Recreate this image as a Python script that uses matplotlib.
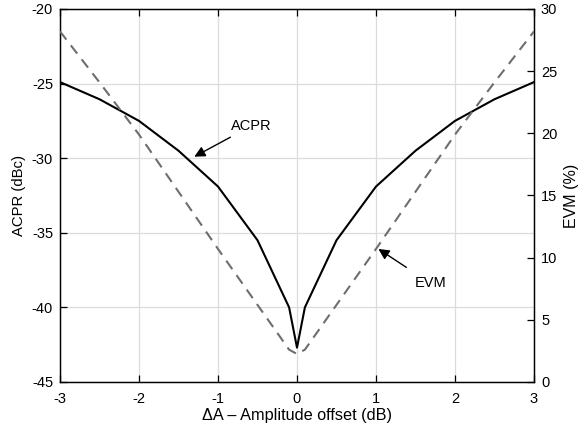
import matplotlib
matplotlib.use("Agg")
import matplotlib.pyplot as plt

plt.rcParams['font.family'] = ['Liberation Sans', 'DejaVu Sans']
plt.rcParams['axes.unicode_minus'] = False

offset_db = [-3, -2.5, -2, -1.5, -1, -0.5, -0.1, 0, 0.1, 0.5, 1, 1.5, 2, 2.5, 3]
acpr_dbc = [-24.9, -26.05, -27.5, -29.5, -31.9, -35.5, -40.0, -42.7, -40.0, -35.5, -31.9, -29.5, -27.5, -26.05, -24.9]
evm_pct = [28.2, 24.1, 19.9, 15.3, 10.7, 6.2, 2.6, 2.25, 2.6, 6.2, 10.7, 15.3, 19.9, 24.1, 28.2]

x_ticks = [-3, -2, -1, 0, 1, 2, 3]
acpr_ticks = [-45, -40, -35, -30, -25, -20]
evm_ticks = [0, 5, 10, 15, 20, 25, 30]

fig = plt.figure(figsize=(5.79, 4.36), dpi=100)
ax = fig.add_axes([0.1036, 0.1239, 0.8187, 0.8555])
ax2 = ax.twinx()

ax.plot(offset_db, acpr_dbc, color='black', lw=1.5, zorder=3)
ax2.plot(offset_db, evm_pct, color='#6e6e6e', lw=1.5, ls=(0, (5, 3.5)), zorder=3)

ax.set_xlim(-3, 3)
ax.set_ylim(-45, -20)
ax2.set_ylim(0, 30)
ax.set_xticks(x_ticks)
ax.set_yticks(acpr_ticks)
ax2.set_yticks(evm_ticks)
ax.grid(True, color='#dcdcdc', lw=0.9)
ax.set_axisbelow(True)

for a in (ax, ax2):
    a.tick_params(direction='in', length=5, width=0.9, labelsize=10.5, colors='black', pad=5)
    for s in a.spines.values():
        s.set_linewidth(0.9)
ax.tick_params(axis='x', top=True, pad=7.5)

ax.set_xlabel('\u0394A \u2013 Amplitude offset (dB)', fontsize=11.7, labelpad=1)
ax.set_ylabel('ACPR (dBc)', fontsize=10.7, labelpad=4)
ax2.set_ylabel('EVM (%)', fontsize=11.5, labelpad=5)

ax.annotate('ACPR', xy=(-1.30, -29.9), xytext=(-0.84, -27.85),
            fontsize=10.5, va='center', ha='left',
            arrowprops=dict(arrowstyle='-|>', color='black', lw=1.0,
                            mutation_scale=16, shrinkA=2, shrinkB=0))
ax2.annotate('EVM', xy=(1.03, 10.7), xytext=(1.69, 7.94),
             fontsize=10.5, va='center', ha='center',
             arrowprops=dict(arrowstyle='-|>', color='black', lw=1.0,
                             mutation_scale=16, shrinkA=8, shrinkB=0))

fig.savefig('out.png', dpi=100)
